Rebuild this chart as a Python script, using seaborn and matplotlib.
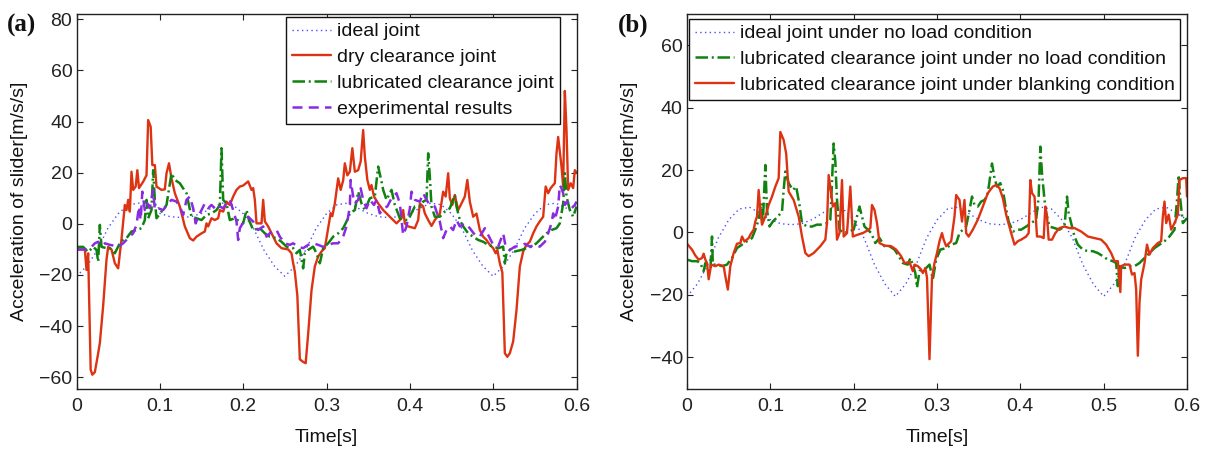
import matplotlib
matplotlib.use("Agg")
import matplotlib.pyplot as plt
import seaborn as sns

# ---------------- data ----------------
ideal_t = [0.0, 0.0125, 0.025, 0.0375, 0.05, 0.0625, 0.075, 0.0875, 0.1, 0.1125, 0.125,
           0.1375, 0.15, 0.1625, 0.175, 0.1875, 0.2, 0.2125, 0.225, 0.2375, 0.25,
           0.2625, 0.275, 0.2875, 0.3, 0.3125, 0.325, 0.3375, 0.35, 0.3625, 0.375,
           0.3875, 0.4, 0.4125, 0.425, 0.4375, 0.45, 0.4625, 0.475, 0.4875, 0.5,
           0.5125, 0.525, 0.5375, 0.55, 0.5625, 0.575, 0.5875, 0.6]
ideal_v = [-20.5, -16.5, -10.3, -1.8, 4.0, 7.5, 8.1, 6.2, 4.1, 2.8, 2.5,
           2.8, 4.1, 6.2, 8.1, 7.5, 4.0, -1.8, -10.3, -16.5, -20.5,
           -16.5, -10.3, -1.8, 4.0, 7.5, 8.1, 6.2, 4.1, 2.8, 2.5,
           2.8, 4.1, 6.2, 8.1, 7.5, 4.0, -1.8, -10.3, -16.5, -20.5,
           -16.5, -10.3, -1.8, 4.0, 7.5, 8.1, 6.2, 4.1]

# (a) dry clearance joint
dry_t = [0.0, 0.010, 0.012, 0.014, 0.017, 0.019, 0.022, 0.025, 0.028, 0.032, 0.036, 0.038, 0.042,
         0.046, 0.050, 0.054, 0.058, 0.060, 0.062, 0.064, 0.066, 0.068, 0.071, 0.073, 0.075, 0.080,
         0.084, 0.086, 0.089, 0.091, 0.094, 0.096, 0.102, 0.106, 0.108, 0.111, 0.114, 0.118, 0.124,
         0.130, 0.136, 0.140, 0.144, 0.150, 0.154, 0.156, 0.158, 0.162, 0.166, 0.170, 0.172, 0.176,
         0.180, 0.184, 0.188, 0.192, 0.196, 0.200, 0.206, 0.210, 0.212, 0.214, 0.216, 0.222, 0.224,
         0.226, 0.230, 0.236, 0.240, 0.246, 0.254, 0.258, 0.260, 0.262, 0.265, 0.268, 0.272, 0.275,
         0.278, 0.282, 0.286, 0.290, 0.294, 0.298, 0.302, 0.305, 0.307, 0.310, 0.314, 0.317, 0.320,
         0.322, 0.325, 0.328, 0.331, 0.334, 0.338, 0.341, 0.344, 0.346, 0.349, 0.352, 0.354, 0.357,
         0.362, 0.368, 0.376, 0.384, 0.390, 0.392, 0.394, 0.398, 0.406, 0.410, 0.412, 0.416, 0.418,
         0.422, 0.426, 0.430, 0.436, 0.440, 0.443, 0.446, 0.448, 0.451, 0.454, 0.458, 0.462, 0.466,
         0.469, 0.472, 0.476, 0.480, 0.484, 0.488, 0.492, 0.496, 0.500, 0.503, 0.505, 0.508, 0.511,
         0.514, 0.517, 0.520, 0.524, 0.528, 0.532, 0.536, 0.540, 0.544, 0.548, 0.552, 0.556, 0.560,
         0.563, 0.566, 0.569, 0.574, 0.576, 0.578, 0.580, 0.582, 0.584, 0.586, 0.588, 0.590, 0.593,
         0.596, 0.598, 0.600]
dry_v = [-10, -10, -18, -11.5, -57, -59, -58, -52.5, -46.7, -32, -14, -9, -10,
         -15.4, -17.4, -6, 7.4, 5.4, 9.4, 4.8, 20.4, 13.3, 14.6, 21, 14, 16.5,
         19, 40.6, 38, 23, 23, 14.6, 13.3, 13.5, 19.8, 23.7, 17.8, 12, 6.8,
         -1, -5.6, -6.5, -5, -3.7, -3, 0.2, -1, 2.2, 1.5, 2.2, 5.4, 4.8,
         8.7, 7.4, 10.7, 13.3, 14.6, 15, 16.6, 13.3, 14, 9.4, 0.2, 0.2, 9.4,
         1, -1, -5, -7.6, -9.5, -10, -11.5, -15.4, -18.7, -28, -53, -54, -54.5,
         -43, -26, -16.6, -12.8, -10.8, -9.5, -1.6, 4.2, 3, 8, 17.8, 13.3, 17,
         23.7, 19, 20.4, 29.6, 20.4, 21, 24.4, 36.7, 26.3, 17.2, 13.3, 15.2, 10.7,
         8, 5.4, 2.8, 0.2, 2.2, 5.4, 0.2, -1, -1.7, 1.5, 8, 6.8, 4.1,
         1.5, -0.8, 1.5, 4, 12.6, 10.7, 19.8, 10, 7.4, 11.3, 5.4, 8, 10.7,
         17.2, 8.7, 2.8, 4, -2.4, -5, -6.3, -8.2, -9.5, -11.5, -10.2, -15.4, -19,
         -50.6, -52, -50.6, -46, -33.7, -16.7, -10.8, -8.2, -7, -3.7, -1, 1, 2.8,
         14.6, 12, 14, 15.9, 27.6, 34, 28.3, 22.4, 14.6, 52, 36.7, 13.3, 15.9,
         14, 21, 20]

# (a) lubricated clearance joint
lub_t = [0.0, 0.008, 0.014, 0.020, 0.024, 0.026, 0.028, 0.030, 0.036, 0.040, 0.046, 0.052, 0.056,
         0.060, 0.066, 0.072, 0.078, 0.082, 0.084, 0.086, 0.090, 0.092, 0.094, 0.096, 0.102, 0.108,
         0.114, 0.118, 0.124, 0.128, 0.132, 0.134, 0.138, 0.144, 0.150, 0.156, 0.162, 0.168, 0.172,
         0.174, 0.176, 0.180, 0.184, 0.190, 0.196, 0.200, 0.204, 0.207, 0.212, 0.220, 0.226, 0.232,
         0.240, 0.246, 0.252, 0.260, 0.264, 0.268, 0.272, 0.274, 0.278, 0.284, 0.288, 0.292, 0.296,
         0.302, 0.308, 0.314, 0.320, 0.324, 0.328, 0.334, 0.338, 0.342, 0.346, 0.352, 0.358, 0.362,
         0.366, 0.368, 0.372, 0.378, 0.382, 0.388, 0.392, 0.398, 0.406, 0.412, 0.416, 0.420, 0.422,
         0.424, 0.426, 0.430, 0.436, 0.442, 0.448, 0.454, 0.456, 0.460, 0.464, 0.470, 0.476, 0.482,
         0.488, 0.494, 0.500, 0.506, 0.512, 0.514, 0.516, 0.520, 0.526, 0.534, 0.540, 0.546, 0.552,
         0.558, 0.564, 0.570, 0.576, 0.580, 0.584, 0.586, 0.588, 0.592, 0.596, 0.600]
lub_v = [-9, -9, -11, -9, -10.2, -14.8, -0.4, -9, -9.5, -9.5, -11.5, -7.6, -6.3,
         -5.6, -3, -2.4, -1.7, 1.5, 9.4, 2.2, 5.4, 21, 9.4, 2.2, 4.8, 7.4,
         19.8, 17.2, 15.9, 13.9, 12, 8.7, 2.8, 2.2, 1.5, 3.5, 4.1, 5.4, 7.4,
         29.6, 9.4, 8, 1.5, 2.2, 0.9, 0.2, 5.4, 1.5, -2.4, -1.7, -3.7, -5,
         -5.6, -7, -8.9, -9.5, -11.5, -10.2, -17.4, -11.5, -10.2, -8.9, -11.5, -15.4, -9.5,
         -7.6, -5, -3.7, -1.7, 0.9, 4.1, 5.4, 12.6, 8, 5.4, 10, 10.7, 22.4,
         16.6, 13.3, 9.4, 13.3, 7.4, 2.2, 1.5, 1.5, 6.8, 6.8, 8.7, 9.4, 27.6,
         18.5, 6.8, 2.8, 2.8, 4.8, 6.1, 11.3, 6.8, 1.5, -1, -3.7, -5, -6.3,
         -7, -8.2, -8.9, -9.5, -8.9, -15.4, -11.5, -10.2, -10.8, -10.2, -9.5, -8.9, -7.6,
         -5.6, -3.7, -2.4, -1.7, 0.2, 8, 19.8, 10.7, 5.4, 2.8, 6.8]

# (a) experimental results
exp_t = [0.0, 0.012, 0.018, 0.022, 0.026, 0.030, 0.034, 0.040, 0.046, 0.050, 0.056, 0.062, 0.068,
         0.072, 0.075, 0.077, 0.079, 0.082, 0.085, 0.088, 0.090, 0.092, 0.094, 0.098, 0.104, 0.110,
         0.114, 0.120, 0.124, 0.128, 0.132, 0.136, 0.140, 0.143, 0.146, 0.150, 0.154, 0.158, 0.162,
         0.168, 0.172, 0.176, 0.180, 0.184, 0.188, 0.192, 0.194, 0.196, 0.200, 0.206, 0.212, 0.218,
         0.224, 0.228, 0.234, 0.240, 0.244, 0.250, 0.256, 0.260, 0.266, 0.272, 0.278, 0.284, 0.290,
         0.296, 0.302, 0.308, 0.314, 0.320, 0.324, 0.328, 0.329, 0.332, 0.334, 0.338, 0.341, 0.344,
         0.348, 0.352, 0.357, 0.360, 0.364, 0.368, 0.373, 0.378, 0.384, 0.388, 0.392, 0.396, 0.400,
         0.402, 0.406, 0.412, 0.416, 0.420, 0.424, 0.430, 0.436, 0.440, 0.444, 0.448, 0.452, 0.456,
         0.460, 0.466, 0.472, 0.478, 0.484, 0.490, 0.496, 0.500, 0.506, 0.512, 0.515, 0.520, 0.526,
         0.532, 0.538, 0.544, 0.550, 0.556, 0.562, 0.566, 0.570, 0.572, 0.574, 0.578, 0.580, 0.582,
         0.584, 0.586, 0.589, 0.594, 0.598, 0.600]
exp_v = [-10, -10, -9, -7.6, -7, -8.6, -7.6, -8.2, -8.6, -9, -7.6, -5.6, -3.7,
         -0.4, 6.8, 1.5, 12.6, 5.4, 8, 6.1, 10, 13.3, 5.4, 6.1, 5.4, 8,
         9.4, 8.7, 6.8, 3.5, 9.4, 10.7, 6.1, 0.2, 2.8, 5.4, 8, 6.1, 7.4,
         5.4, 6.8, 6.1, 8, 9.4, 5.4, 0.9, -6.3, -1.7, 0.5, 2.8, 0.9, -2.4,
         -1, -5, -3, -2.4, -5, -7.6, -8.2, -7.6, -9, -9.5, -8.2, -7.6, -8.2,
         -9, -8.2, -7.6, -7.6, -5, -1, 6.8, 17.2, 10.7, 8, 9.4, 13.9, 9.4,
         6.1, 9.4, 7.4, 9.4, 4.1, 6.1, 6.8, 10, 12, 8, -4.4, -1, 6,
         12.6, 9.4, 8.7, 12, 9.4, 7.4, 6.8, 0.9, -5.6, -2.4, -1, -2.4, 1.5,
         -1, 0.2, -1.7, -4.3, -5, -1.7, -5.6, -8.2, -8.9, -3.7, -8.9, -10.2, -8.9,
         -8.6, -7.8, -8.9, -8.2, -8.9, -7, -3.7, 0.2, 4.1, 1.5, 6.8, 15.2, 13.9,
         12, 7.4, 8.7, 6.1, 7.4, 8.7]

# (b) lubricated clearance joint under no load condition
noload_t = [0.0, 0.006, 0.012, 0.016, 0.020, 0.022, 0.026, 0.028, 0.030, 0.031, 0.036, 0.042, 0.048,
            0.054, 0.060, 0.066, 0.072, 0.078, 0.082, 0.086, 0.089, 0.091, 0.094, 0.096, 0.099, 0.103,
            0.109, 0.114, 0.116, 0.118, 0.122, 0.127, 0.131, 0.135, 0.138, 0.144, 0.150, 0.156, 0.162,
            0.168, 0.172, 0.176, 0.178, 0.180, 0.183, 0.188, 0.194, 0.200, 0.203, 0.207, 0.210, 0.213,
            0.217, 0.221, 0.226, 0.231, 0.237, 0.243, 0.249, 0.253, 0.259, 0.265, 0.268, 0.271, 0.274,
            0.276, 0.279, 0.283, 0.287, 0.291, 0.295, 0.299, 0.304, 0.311, 0.317, 0.323, 0.327, 0.331,
            0.335, 0.339, 0.342, 0.345, 0.349, 0.353, 0.357, 0.361, 0.366, 0.369, 0.372, 0.376, 0.379,
            0.382, 0.386, 0.391, 0.397, 0.401, 0.407, 0.413, 0.419, 0.422, 0.424, 0.426, 0.429, 0.431,
            0.435, 0.441, 0.447, 0.453, 0.456, 0.458, 0.461, 0.465, 0.469, 0.475, 0.481, 0.487, 0.493,
            0.499, 0.505, 0.511, 0.515, 0.517, 0.519, 0.525, 0.531, 0.537, 0.543, 0.549, 0.555, 0.561,
            0.567, 0.573, 0.579, 0.585, 0.588, 0.590, 0.592, 0.595, 0.600]
noload_v = [-8.7, -9.2, -9.2, -9.8, -12.4, -9.8, -11.9, -12.4, -1.3, -10.3, -10.3, -10.8, -10.3,
            -8.2, -5, -3.9, -2.8, -1.8, 0.9, 4.1, 9.4, 3, 21.6, 7.2, 1.9, 3.5,
            5.1, 6.7, 13.6, 19.5, 15.8, 13.6, 14.7, 8.8, 3, 1.9, 1.9, 2.5, 2.5,
            3, 4.1, 28.5, 22.7, 10.4, 0.9, -0.2, 0.3, 0.9, 4.1, 8.3, 5.1, 1.9,
            0.9, -0.2, -3.4, -1.8, -4.4, -4.4, -5.5, -7.1, -9.8, -10.3, -8.2, -10.3, -13,
            -17.7, -12.4, -11.9, -11.4, -10.3, -15, -8.7, -5.5, -5, -3.9, -3.4, -0.2, 0.9,
            1.9, 7.2, 11.5, 8.8, 8.3, 9.9, 10.4, 12.6, 22.1, 17.4, 14.7, 15.8, 13.6,
            8.8, 3.5, 0.3, 0.9, 0.9, 1.9, 3, 4.1, 11.5, 27.5, 18.9, 10.4, 6.2,
            1.9, 1.4, 0.9, 1.9, 11.5, 6.2, 3, -1.3, -3.9, -5.5, -6, -6, -6.6,
            -7.6, -8.7, -9.2, -9.8, -17.2, -10.8, -11.4, -10.8, -10.8, -9.8, -8.2, -6.6, -5,
            -3.9, -2.8, -1.3, 0.9, 10.4, 18.4, 10.4, 3, 4.6]

# (b) lubricated clearance joint under blanking condition
blank_t = [0.0, 0.006, 0.010, 0.014, 0.018, 0.020, 0.022, 0.024, 0.026, 0.029, 0.034, 0.038, 0.044,
           0.046, 0.049, 0.052, 0.056, 0.060, 0.064, 0.066, 0.069, 0.074, 0.076, 0.080, 0.082, 0.084,
           0.086, 0.088, 0.090, 0.094, 0.098, 0.102, 0.106, 0.110, 0.112, 0.116, 0.119, 0.122, 0.128,
           0.134, 0.138, 0.142, 0.146, 0.152, 0.160, 0.166, 0.168, 0.170, 0.173, 0.175, 0.178, 0.180,
           0.183, 0.186, 0.188, 0.192, 0.196, 0.199, 0.205, 0.211, 0.217, 0.220, 0.222, 0.225, 0.228,
           0.231, 0.237, 0.245, 0.251, 0.257, 0.261, 0.267, 0.271, 0.273, 0.277, 0.281, 0.283, 0.286,
           0.288, 0.291, 0.294, 0.297, 0.300, 0.303, 0.306, 0.308, 0.311, 0.317, 0.321, 0.323, 0.327,
           0.330, 0.333, 0.335, 0.338, 0.343, 0.349, 0.355, 0.361, 0.367, 0.371, 0.375, 0.379, 0.383,
           0.389, 0.393, 0.397, 0.401, 0.407, 0.410, 0.412, 0.414, 0.417, 0.420, 0.424, 0.428, 0.430,
           0.432, 0.434, 0.438, 0.442, 0.447, 0.453, 0.459, 0.465, 0.473, 0.481, 0.489, 0.497, 0.503,
           0.509, 0.513, 0.517, 0.520, 0.521, 0.525, 0.531, 0.534, 0.537, 0.539, 0.541, 0.543, 0.545,
           0.549, 0.552, 0.555, 0.559, 0.565, 0.569, 0.571, 0.573, 0.575, 0.578, 0.581, 0.585, 0.589,
           0.591, 0.595, 0.599, 0.600]
blank_v = [-3.6, -5.5, -7.4, -8.7, -8.2, -6.8, -8.7, -9.8, -15, -10.3, -10.8, -10.3, -10.8,
           -14, -18.3, -10.8, -6.6, -3.6, -3.4, -1.3, -2.9, -1.8, -0.7, 0.9, 3.5, 5.1,
           13.6, 7.2, 2.5, 5.1, 8.8, 11.5, 14.7, 17.4, 32.2, 29.6, 25.3, 13.1, 10.4,
           5.1, -1.3, -6.6, -7.6, -6.6, -4.4, -2.3, 3, 18.4, 12.6, 8.3, 9.4, -2.3,
           -0.2, 16.8, -1.3, -0.2, 14.7, -1.3, -0.7, -0.2, 0.7, 1.4, 8.8, 7.2, 3,
           -3.4, -4.2, -4.4, -5.5, -7.6, -9.8, -9.5, -12.4, -10.3, -10.8, -11.9, -13, -11.4,
           -14.5, -40.6, -14.5, -9.8, -6.6, -2.8, -0.2, -2.3, -4.4, -2.8, 5.1, 12, 10.4,
           3.5, 10.4, -0.2, -1.3, 0.9, 4.1, 8.3, 12.6, 14.7, 15.2, 14.2, 11, 5.7,
           -0.2, -3.9, -2.8, -2.3, -1.3, -0.2, 16.8, 12.6, 11.5, -1.3, -1.3, -1.8, 8.3,
           5.1, -2.3, -2.3, -0.2, 1.4, 1.9, 1.4, 1.4, 0.3, -1.3, -1.8, -2.3, -3.9,
           -6.6, -9.2, -9.2, -19.1, -10.8, -10.3, -10.3, -13.5, -13, -18.3, -39.5, -22.5, -15.1,
           -9.8, -3.9, -7.1, -5, -3.4, -2.8, 5.1, 9.9, 3, 5.7, 0.9, 3, 5.7,
           16.8, 17.4, 17.4, 11.5]

xticks = [0, 0.1, 0.2, 0.3, 0.4, 0.5, 0.6]
xtick_labels = ["0", "0.1", "0.2", "0.3", "0.4", "0.5", "0.6"]
yticks_a = [-60, -40, -20, 0, 20, 40, 60, 80]
yticks_b = [-40, -20, 0, 20, 40, 60]

labels_a = ["ideal joint", "dry clearance joint", "lubricated clearance joint", "experimental results"]
labels_b = ["ideal joint under no load condition",
            "lubricated clearance joint under no load condition",
            "lubricated clearance joint under blanking condition"]

# ---------------- style ----------------
sns.set_style("ticks")
plt.rcParams['font.family'] = ['Liberation Sans', 'DejaVu Sans']
plt.rcParams.update({
    'xtick.direction': 'in', 'ytick.direction': 'in',
    'xtick.top': True, 'ytick.right': True,
    'xtick.major.size': 4.5, 'ytick.major.size': 4.5,
    'xtick.major.width': 0.8, 'ytick.major.width': 0.8,
    'axes.linewidth': 1.0, 'axes.edgecolor': '#222222',
    'xtick.color': '#222222', 'ytick.color': '#222222',
    'text.color': '#111111', 'axes.labelcolor': '#111111',
})

FS = 14

C_IDEAL = '#4a4cff'
C_RED = '#dd3312'
C_GREEN = '#0f820f'
C_PURPLE = '#8a2be2'

LS_IDEAL = (0, (1, 2.4))
LS_DASHDOT = (0, (5, 1.5, 0.8, 1.5))
LS_DASH = (0, (4, 2.5))

fig = plt.figure(figsize=(12.13, 4.5), dpi=100)
W, H = 1213.0, 450.0
axA = fig.add_axes([76.5 / W, 61.5 / H, 500 / W, 374.5 / H])
axB = fig.add_axes([687 / W, 61.5 / H, 500 / W, 374.5 / H])


def draw(ax, t, v, color, ls, lw, label):
    sns.lineplot(x=t, y=v, ax=ax, color=color, linestyle=ls, linewidth=lw,
                 label=label, estimator=None, sort=False)


# panel (a)
draw(axA, ideal_t, ideal_v, C_IDEAL, LS_IDEAL, 1.0, labels_a[0])
draw(axA, dry_t, dry_v, C_RED, '-', 1.7, labels_a[1])
draw(axA, lub_t, lub_v, C_GREEN, LS_DASHDOT, 1.8, labels_a[2])
draw(axA, exp_t, exp_v, C_PURPLE, LS_DASH, 1.8, labels_a[3])

# panel (b)
draw(axB, ideal_t, ideal_v, C_IDEAL, LS_IDEAL, 1.0, labels_b[0])
draw(axB, noload_t, noload_v, C_GREEN, LS_DASHDOT, 1.8, labels_b[1])
draw(axB, blank_t, blank_v, C_RED, '-', 1.7, labels_b[2])

for ax, yt, ylim in [(axA, yticks_a, (-64.4, 82.1)), (axB, yticks_b, (-50, 70))]:
    ax.set_xlim(0, 0.6)
    ax.set_ylim(*ylim)
    ax.set_xticks(xticks)
    ax.set_xticklabels(xtick_labels)
    ax.set_yticks(yt)
    ax.tick_params(axis='x', labelsize=FS, pad=7)
    ax.tick_params(axis='y', labelsize=FS, pad=3)
    ax.set_xlabel("Time[s]", fontsize=FS, labelpad=10)
    ax.set_ylabel("Acceleration of slider[m/s/s]", fontsize=FS)
    ax.yaxis.set_label_coords(-0.097, 0.5)
    for s in ax.spines.values():
        s.set_visible(True)

legA = axA.legend(loc='upper right', bbox_to_anchor=(0.966, 0.992), borderaxespad=0,
                  fontsize=FS, frameon=True, fancybox=False, edgecolor='#111111',
                  framealpha=1, handlelength=2.0, handletextpad=0.3, labelspacing=0.42,
                  borderpad=0.3)
legA.get_frame().set_linewidth(1.0)
legB = axB.legend(loc='upper left', bbox_to_anchor=(0.004, 0.987), borderaxespad=0,
                  fontsize=FS, frameon=True, fancybox=False, edgecolor='#111111',
                  framealpha=1, handlelength=2.0, handletextpad=0.3, labelspacing=0.42,
                  borderpad=0.3)
legB.get_frame().set_linewidth(1.0)

fig.text(7 / W, 1 - 32 / H, "(a)", fontsize=18, fontweight='bold',
         family=['Liberation Serif', 'DejaVu Serif'], ha='left', va='baseline')
fig.text(618 / W, 1 - 32 / H, "(b)", fontsize=18, fontweight='bold',
         family=['Liberation Serif', 'DejaVu Serif'], ha='left', va='baseline')

fig.savefig("out.png", dpi=100)
